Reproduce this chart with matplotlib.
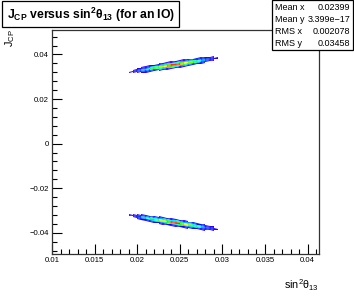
import numpy as np
import matplotlib
matplotlib.use("Agg")
import matplotlib.pyplot as plt
from matplotlib.colors import ListedColormap, BoundaryNorm
from matplotlib.patches import Rectangle
import colorsys

plt.rcParams['font.family'] = ['Liberation Sans', 'DejaVu Sans']

# ---- data ----
# column edges in sin^2(theta13)
x_edges = [0.0190, 0.0195, 0.0200, 0.0205, 0.0210, 0.0215, 0.0220, 0.0225,
           0.0230, 0.0235, 0.0240, 0.0245, 0.0250, 0.0255, 0.0260, 0.0265,
           0.0270, 0.0275, 0.0280, 0.0285, 0.0290, 0.0295]
# J_CP ridge of the upper band at those edges
ridge_j = [0.0320, 0.0323, 0.0327, 0.0330, 0.0333, 0.0337, 0.0340, 0.0343,
           0.0346, 0.0349, 0.0352, 0.0355, 0.0358, 0.0361, 0.0364, 0.0367,
           0.0370, 0.0373, 0.0376, 0.0379, 0.0382, 0.0385]
# relative bin content along the band (per column)
col_peak = [0.03, 0.07, 0.14, 0.24, 0.36, 0.49, 0.62, 0.75, 0.86, 0.95, 1.00,
            0.98, 0.91, 0.80, 0.66, 0.51, 0.37, 0.25, 0.15, 0.08, 0.03]
# offsets across the band (J_CP) and relative content across it
row_edges = [-0.00175, -0.0014, -0.00105, -0.0007, -0.00035, 0.0,
             0.00035, 0.0007, 0.00105, 0.0014, 0.00175]
row_profile = [0.03, 0.10, 0.27, 0.55, 0.92, 0.92, 0.55, 0.27, 0.10, 0.03]

stats_names = ["Mean x", "Mean y", "RMS x", "RMS y"]
stats_values = ["0.02399", "3.399e\u221217", "0.002078", "0.03458"]

title = "J$_{\\mathregular{CP}}$ versus sin$^{\\mathregular{2}}$\u03b8$_{\\mathregular{13}}$ (for an IO)"
xlabel = "sin$^{\\mathregular{2}}$\u03b8$_{\\mathregular{13}}$"
ylabel = "J$_{\\mathregular{CP}}$"

x_range = (0.01, 0.0413)
y_range = (-0.0495, 0.0512)

# ---- palette (ROOT-like rainbow) ----
ncol = 20
cols = [colorsys.hsv_to_rgb(h / 360.0, 1.0, 1.0) for h in np.linspace(250, 0, ncol)]
cmap = ListedColormap(cols)
norm = BoundaryNorm(np.linspace(0, 1.0001, ncol + 1), ncol)

fig = plt.figure(figsize=(3.54, 3.0), dpi=100)
ax = fig.add_axes([52 / 354, 46 / 300, (318.7 - 52) / 354, (254 - 29.5) / 300])

xe = np.array(x_edges)
rj = np.array(ridge_j)
re = np.array(row_edges)
C = np.outer(row_profile, col_peak)
C = np.ma.masked_less(C, 0.02)
X = np.tile(xe, (len(re), 1))
Y = rj[None, :] + re[:, None]
ax.pcolormesh(X, Y, C, cmap=cmap, norm=norm, shading='flat', linewidth=0,
              antialiased=True)
ax.pcolormesh(X, -Y, C, cmap=cmap, norm=norm, shading='flat', linewidth=0,
              antialiased=True)

ax.set_xlim(*x_range)
ax.set_ylim(*y_range)
ax.set_xticks(np.arange(0.01, 0.0401, 0.005))
ax.set_xticklabels(["0.01", "0.015", "0.02", "0.025", "0.03", "0.035", "0.04"])
ax.set_xticks(np.arange(0.010, 0.0414, 0.001), minor=True)
ax.set_yticks(np.arange(-0.04, 0.0401, 0.02))
ax.set_yticklabels(["\u22120.04", "\u22120.02", "0", "0.02", "0.04"])
ax.set_yticks(np.arange(-0.048, 0.0501, 0.004), minor=True)
ax.tick_params(which='both', direction='in', top=False, right=False, labelsize=5.6,
               colors='black', width=0.8, pad=2)
ax.tick_params(which='major', length=7)
ax.tick_params(which='minor', length=3.5)
for s in ax.spines.values():
    s.set_linewidth(0.9)
    s.set_color('#333333')

fig.text(318.7 / 354, 1 - 289 / 300, xlabel, ha='right', va='baseline', fontsize=7.8)
fig.text(10 / 354, 1 - 29.5 / 300, ylabel, ha='center', va='top', rotation=90, fontsize=7.8)

# title box
fig.patches.append(Rectangle((2 / 354, 1 - 27 / 300), 177 / 354, 26 / 300,
                             transform=fig.transFigure, fill=True, facecolor='white',
                             edgecolor='black', linewidth=0.9))
fig.text(91 / 354, 1 - 14.5 / 300, title, ha='center', va='center', fontsize=8.8,
         fontweight='bold')

# stats box
fig.patches.append(Rectangle((272 / 354, 1 - 50 / 300), 80.5 / 354, 49.5 / 300,
                             transform=fig.transFigure, fill=True, facecolor='white',
                             edgecolor='black', linewidth=0.9))
for i, (n, v) in enumerate(zip(stats_names, stats_values)):
    yy = 1 - (7 + 12 * i) / 300
    fig.text(275 / 354, yy, n, ha='left', va='center', fontsize=6.5)
    fig.text(350 / 354, yy, v, ha='right', va='center', fontsize=6.5)

fig.savefig("out.png", dpi=100)
